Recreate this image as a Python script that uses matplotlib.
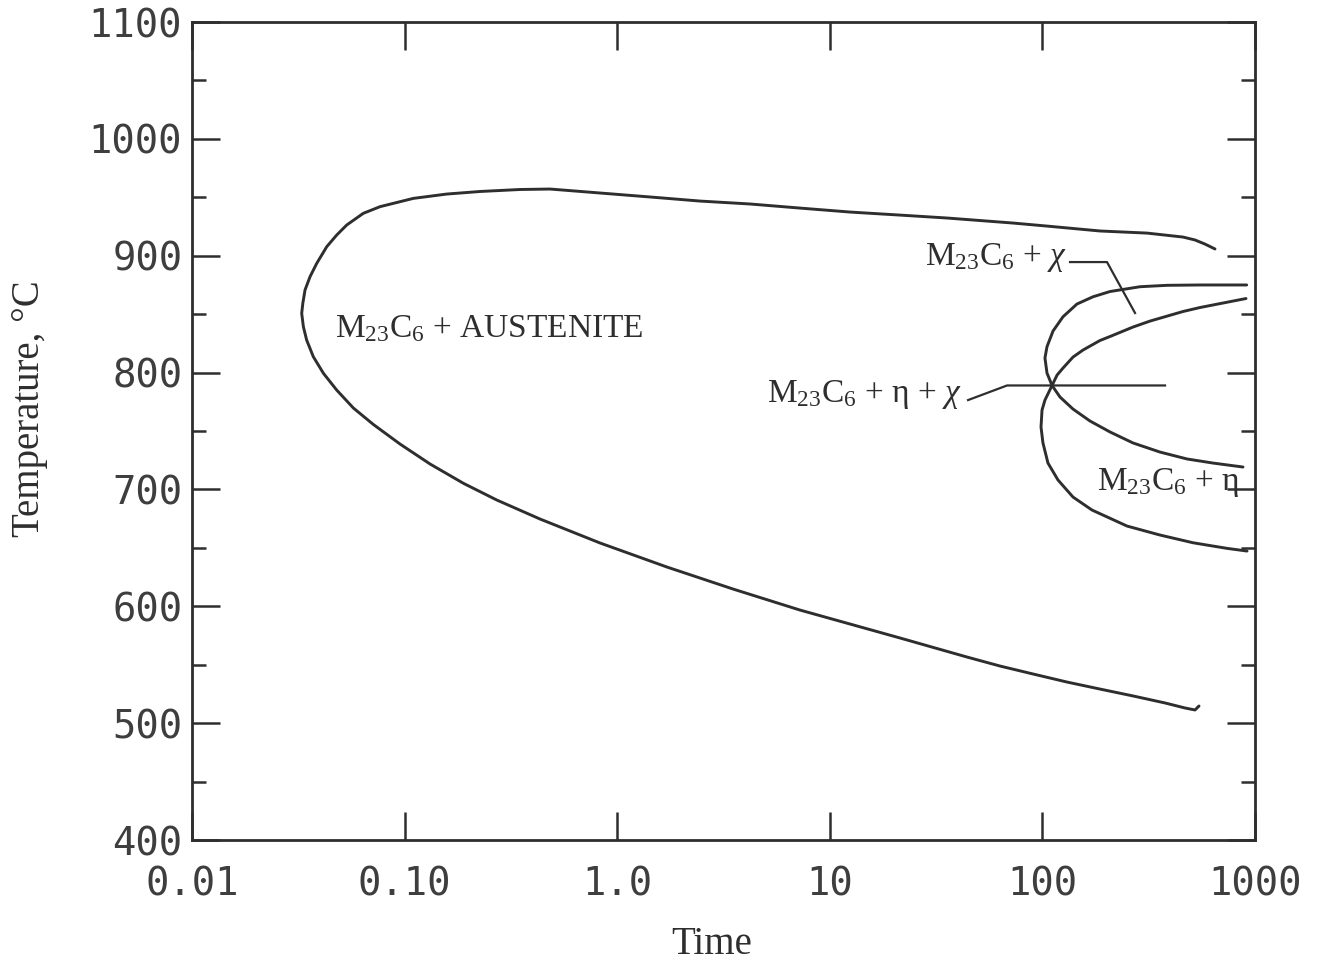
import matplotlib
matplotlib.use("Agg")
import matplotlib.pyplot as plt
from matplotlib.ticker import FixedLocator

# --- axis ticks -------------------------------------------------------------
x_ticks = [0.01, 0.1, 1.0, 10, 100, 1000]
x_tick_labels = ["0.01", "0.10", "1.0", "10", "100", "1000"]
y_ticks = [400, 500, 600, 700, 800, 900, 1000, 1100]
y_minor_ticks = [450, 550, 650, 750, 850, 950, 1050]

# --- M23C6 precipitation C-curve (upper end -> nose -> lower end) -----------
outer_time = [648.4, 581.8, 522.1, 458.6, 310.5, 186.6, 105.1, 72.7, 35.58, 21.39,
              12.45, 7.240, 4.214, 2.452, 1.427, 0.830, 0.483, 0.349, 0.2263,
              0.1578, 0.1099, 0.0766, 0.0639, 0.0534, 0.0479, 0.0430, 0.0386,
              0.0359, 0.0340, 0.0332, 0.0328, 0.0334, 0.0346, 0.0372, 0.0415,
              0.0479, 0.0574, 0.0713, 0.0951, 0.1317, 0.1889, 0.2711, 0.4335,
              0.830, 1.715, 3.505, 7.240, 21.39, 44.19, 63.18, 90.31, 130.5,
              186.6, 266.8, 377.4, 468.6, 522.1, 545.3]
outer_temp = [905.8, 910.0, 913.5, 916.0, 919.4, 921.2, 925.4, 928.0, 932.3, 934.8,
              937.4, 940.8, 944.3, 946.8, 950.3, 953.7, 957.1, 956.7, 955.0,
              952.8, 949.1, 942.0, 936.3, 926.3, 917.7, 907.7, 893.5,
              882.1, 870.7, 859.3, 850.7, 839.3, 827.9, 813.6, 799.4,
              785.1, 769.7, 755.6, 738.9, 721.8, 705.3, 691.0, 674.7,
              654.2, 633.6, 614.8, 596.8, 572.9, 556.6, 548.9, 542.1, 535.2,
              529.2, 523.3, 517.3, 513.0, 511.3, 514.7]

# --- chi-phase C-curve ------------------------------------------------------
chi_time = [914.1, 551.1, 384.4, 287.9, 208.0, 173.0, 145.4, 125.0, 112.2, 105.1,
            102.8, 105.1, 111.0, 121.0, 139.3, 167.4, 208.0, 266.8, 357.5, 478.8,
            634.3, 878.2]
chi_temp = [875.0, 875.0, 874.7, 873.5, 869.4, 864.9, 858.7, 847.8, 835.6, 822.2,
            812.5, 799.6, 789.0, 779.1, 768.8, 758.6, 749.2, 739.8, 732.0, 726.1,
            722.6, 719.2]

# --- eta-phase C-curve ------------------------------------------------------
eta_time = [907.4, 551.1, 458.6, 320.8, 266.8, 208.0, 186.6, 155.2, 139.3, 125.0,
            117.2, 111.0, 102.8, 99.6, 98.5, 100.6, 106.2, 118.4, 139.3, 171.1,
            250.0, 357.5, 510.9, 738.6, 917.3]
eta_temp = [863.4, 855.7, 852.3, 844.1, 839.0, 830.9, 827.5, 819.3, 813.3, 803.9,
            797.9, 789.0, 776.5, 768.0, 753.4, 739.8, 722.6, 708.1, 693.5, 682.4,
            668.7, 661.0, 654.4, 649.6, 647.3]

# --- leader lines for the phase-field labels --------------------------------
chi_leader_time = [134.9, 201.3, 272.7]
chi_leader_temp = [894.6, 894.6, 851.0]
eta_chi_leader_time = [44.7, 68.2, 377.4]
eta_chi_leader_temp = [776.5, 789.0, 789.0]

# --- phase-field labels -----------------------------------------------------
region_labels = [r"M$_{\mathrm{23}}$C$_{\mathrm{6}}$ + AUSTENITE",
                 r"M$_{\mathrm{23}}$C$_{\mathrm{6}}$ + $\chi$",
                 r"M$_{\mathrm{23}}$C$_{\mathrm{6}}$ + η + $\chi$",
                 r"M$_{\mathrm{23}}$C$_{\mathrm{6}}$ + η"]
label_time = [0.047, 130.0, 41.8, 180.6]
label_temp = [830.5, 892.0, 774.8, 699.5]
label_align = ["left", "right", "right", "left"]

INK = "#2e2e2e"
plt.rcParams.update({
    "mathtext.fontset": "custom",
    "mathtext.rm": "Liberation Serif",
    "mathtext.it": "Liberation Serif:italic",
    "mathtext.bf": "Liberation Serif:bold",
})

fig = plt.figure(figsize=(13.18, 9.67), dpi=100)
ax = fig.add_axes([0.1457, 0.1313, 0.8065, 0.8459])
ax.set_xscale("log")
ax.set_xlim(0.01, 1000)
ax.set_ylim(400, 1100)

line_kw = dict(color=INK, lw=2.1, solid_joinstyle="round", solid_capstyle="round")
ax.plot(outer_time, outer_temp, **line_kw)
ax.plot(chi_time, chi_temp, **line_kw)
ax.plot(eta_time, eta_temp, **line_kw)
ax.plot(chi_leader_time, chi_leader_temp, color=INK, lw=1.6)
ax.plot(eta_chi_leader_time, eta_chi_leader_temp, color=INK, lw=1.6)

for txt, t, T, ha in zip(region_labels, label_time, label_temp, label_align):
    ax.text(t, T, txt, ha=ha, va="baseline", fontsize=24,
            family="Liberation Serif", color=INK)

# frame and ticks
for sp in ax.spines.values():
    sp.set_linewidth(2.0)
    sp.set_color(INK)

ax.xaxis.set_major_locator(FixedLocator(x_ticks))
ax.xaxis.set_minor_locator(FixedLocator([]))
ax.set_xticklabels(x_tick_labels)
ax.yaxis.set_major_locator(FixedLocator(y_ticks))
ax.yaxis.set_minor_locator(FixedLocator(y_minor_ticks))
ax.set_yticklabels([str(v) for v in y_ticks])

ax.tick_params(which="both", direction="in", top=True, right=True,
               color=INK, width=1.8)
ax.tick_params(which="major", length=20)
ax.tick_params(which="minor", length=10)
ax.tick_params(axis="x", which="major", pad=18)
ax.tick_params(axis="y", which="major", pad=7)
for lab in ax.get_xticklabels() + ax.get_yticklabels():
    lab.set_family("DejaVu Sans Mono")
    lab.set_fontsize(28)
    lab.set_color("#3e3e3e")

ax.set_xlabel("Time", family="Liberation Serif", fontsize=28, color=INK, va="center")
ax.set_ylabel("Temperature, °C", family="Liberation Serif", fontsize=28, color=INK,
              va="center")
ax.xaxis.set_label_coords(0.489, -0.128)
ax.yaxis.set_label_coords(-0.153, 0.528)

fig.savefig("out.png", dpi=100, facecolor="white")
